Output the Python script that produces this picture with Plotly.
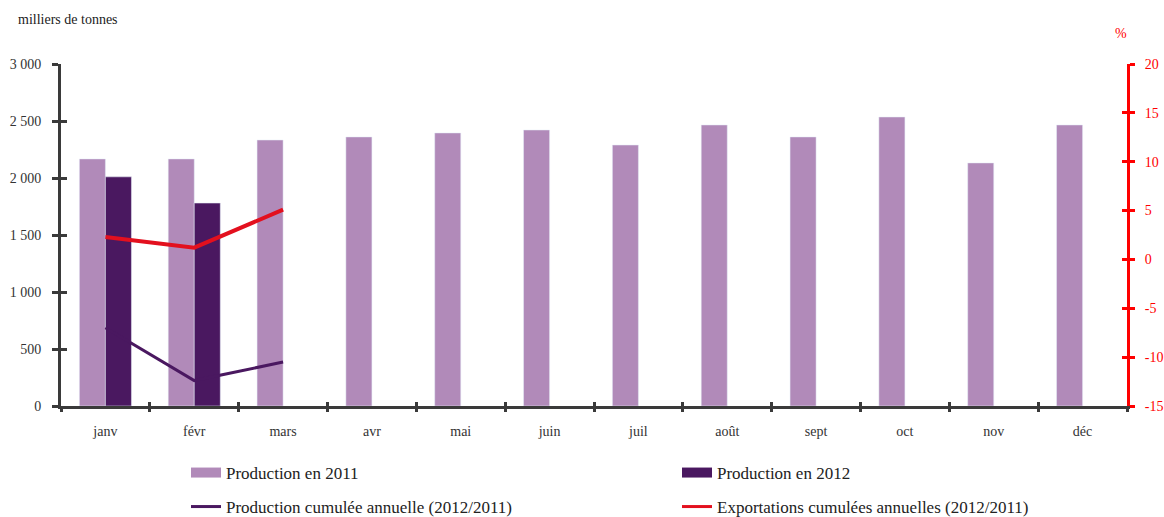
import plotly.graph_objects as go

# Monthly data
months = ["janv", "févr", "mars", "avr", "mai", "juin", "juil", "août", "sept", "oct", "nov", "déc"]
prod_2011 = [2167, 2167, 2333, 2360, 2395, 2421, 2289, 2465, 2360, 2535, 2132, 2465]
prod_2012 = [2010, 1780, None, None, None, None, None, None, None, None, None, None]
prod_cumul_pct = [-7.0, -12.4, -10.5, None, None, None, None, None, None, None, None, None]
export_cumul_pct = [2.3, 1.2, 5.1, None, None, None, None, None, None, None, None, None]

left_ticks = [0, 500, 1000, 1500, 2000, 2500, 3000]
left_ticktext = ["0", "500", "1 000", "1 500", "2 000", "2 500", "3 000"]
right_ticks = [-15, -10, -5, 0, 5, 10, 15, 20]
right_ticktext = ["-15", "-10", "-5", "0", "5", "10", "15", "20"]

C2011 = "#b18ab9"
C2012 = "#4a1860"
CRED = "#e3101e"
AXIS = "#3a3a3a"
FONT = "Liberation Serif"

fig = go.Figure()

fig.add_trace(go.Bar(x=months, y=prod_2011, name="Production en 2011",
                     marker_color=C2011, showlegend=False))
fig.add_trace(go.Bar(x=months, y=prod_2012, name="Production en 2012",
                     marker_color=C2012, showlegend=False))
fig.add_trace(go.Scatter(x=months, y=prod_cumul_pct, yaxis="y2", mode="lines",
                         line=dict(color=C2012, width=3), showlegend=False))
fig.add_trace(go.Scatter(x=months, y=export_cumul_pct, yaxis="y2", mode="lines",
                         line=dict(color=CRED, width=4), showlegend=False))

# Legend entries (wide rectangular swatches for the bars)
fig.add_trace(go.Scatter(x=[None], y=[None], mode="lines", name="Production en 2011",
                         line=dict(color=C2011, width=11), legend="legend"))
fig.add_trace(go.Scatter(x=[None], y=[None], mode="lines", name="Production en 2012",
                         line=dict(color=C2012, width=11), legend="legend"))
fig.add_trace(go.Scatter(x=[None], y=[None], mode="lines",
                         name="Production cumulée annuelle (2012/2011)",
                         line=dict(color=C2012, width=3), legend="legend2"))
fig.add_trace(go.Scatter(x=[None], y=[None], mode="lines",
                         name="Exportations cumulées annuelles (2012/2011)",
                         line=dict(color=CRED, width=3), legend="legend2"))

# Empty traces that carry the inner halves of the crossing tick marks
fig.add_trace(go.Scatter(x=[None], y=[None], xaxis="x2", yaxis="y3",
                         showlegend=False, hoverinfo="skip"))
fig.add_trace(go.Scatter(x=[None], y=[None], xaxis="x", yaxis="y4",
                         showlegend=False, hoverinfo="skip"))

legend_common = dict(orientation="h", xanchor="left", yanchor="middle",
                     font=dict(family=FONT, size=17, color="#222"),
                     bgcolor="rgba(0,0,0,0)", entrywidth=446, entrywidthmode="pixels",
                     itemwidth=30, tracegroupgap=0)

fig.update_layout(
    width=1164, height=517,
    margin=dict(l=61, r=37, t=64, b=111, autoexpand=False),
    paper_bgcolor="white", plot_bgcolor="white",
    barmode="group", bargap=0.414, bargroupgap=0,
    font=dict(family=FONT, size=14, color="#333"),
    xaxis=dict(type="category", categoryarray=months, range=[-0.5, 11.5],
               showline=True, linecolor=AXIS, linewidth=3,
               ticks="outside", ticklen=3, tickwidth=3, tickcolor=AXIS,
               tickson="boundaries", showgrid=False, ticklabelstandoff=10,
               tickfont=dict(family=FONT, size=14, color="#333")),
    xaxis2=dict(type="category", categoryarray=months, range=[-0.5, 11.5],
                overlaying="x", side="bottom", anchor="y",
                ticks="inside", ticklen=4, tickwidth=3, tickcolor=AXIS,
                tickson="boundaries", showticklabels=False, showline=False, showgrid=False),
    yaxis=dict(range=[0, 3000], tickvals=left_ticks, ticktext=left_ticktext,
               showline=True, linecolor=AXIS, linewidth=3,
               ticks="outside", ticklen=6, tickwidth=3, tickcolor=AXIS,
               showgrid=False, zeroline=False, ticklabelstandoff=8,
               tickfont=dict(family=FONT, size=14, color="#333")),
    yaxis3=dict(range=[0, 3000], tickvals=left_ticks, overlaying="y", side="left",
                anchor="x2", ticks="inside", ticklen=6, tickwidth=3, tickcolor=AXIS,
                showticklabels=False, showline=False, showgrid=False, zeroline=False),
    yaxis2=dict(range=[-15, 20], tickvals=right_ticks, ticktext=right_ticktext,
                overlaying="y", side="right",
                showline=True, linecolor="#ff0000", linewidth=3,
                ticks="outside", ticklen=5, tickwidth=3, tickcolor="#ff0000",
                showgrid=False, zeroline=False, ticklabelstandoff=7,
                tickfont=dict(family=FONT, size=14, color="#ff0000")),
    yaxis4=dict(range=[-15, 20], tickvals=right_ticks, overlaying="y", side="right",
                ticks="inside", ticklen=5, tickwidth=3, tickcolor="#ff0000",
                showticklabels=False, showline=False, showgrid=False, zeroline=False),
    legend=dict(x=(186 - 61) / 1066, y=(406 - 473) / 342, **legend_common),
    legend2=dict(x=(186 - 61) / 1066, y=(406 - 507) / 342, **legend_common),
    annotations=[
        dict(text="milliers de tonnes", xref="paper", yref="paper",
             x=-(61 - 16) / 1066, y=(406 - 20) / 342, xanchor="left", yanchor="middle",
             showarrow=False, font=dict(family=FONT, size=14, color="#222")),
        dict(text="%", xref="paper", yref="paper",
             x=(1121 - 61) / 1066, y=(406 - 33) / 342, xanchor="center", yanchor="middle",
             showarrow=False, font=dict(family=FONT, size=14, color="#ff0000")),
    ],
)

fig.write_html("out.html")
